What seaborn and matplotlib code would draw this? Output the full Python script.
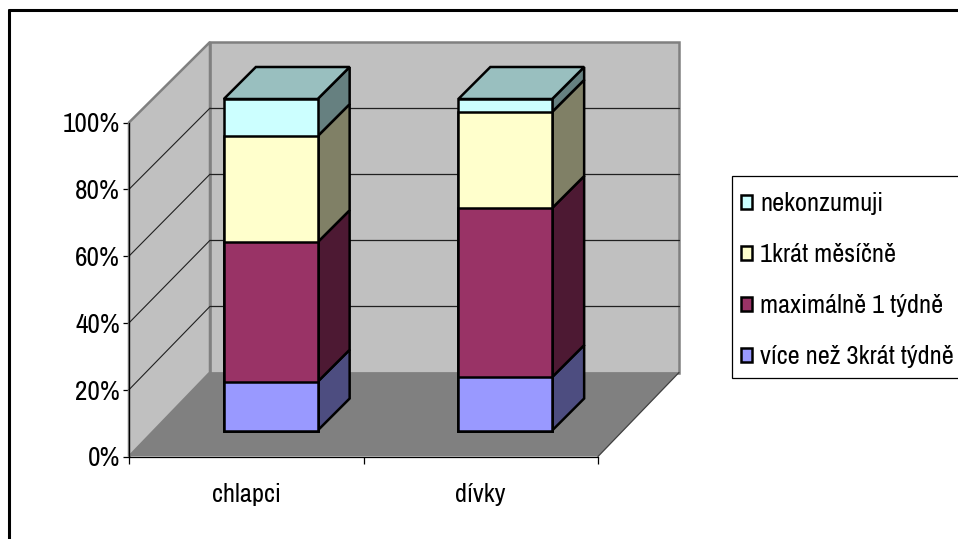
import matplotlib
matplotlib.use("Agg")
import matplotlib.pyplot as plt
from matplotlib import font_manager as fm
from matplotlib.patches import Patch, Polygon, Rectangle
from matplotlib.ticker import PercentFormatter, FixedLocator, NullFormatter
import seaborn as sns

# Share of pupils by frequency of consumption (percent of each group)
groups = ["chlapci", "dívky"]
more_than_3x_week = [14.7, 16.1]
at_most_1x_week = [42.1, 51.0]
once_a_month = [32.0, 29.0]
never = [11.2, 3.9]

series_labels = ["více než 3krát týdně", "maximálně 1 týdně", "1krát měsíčně", "nekonzumuji"]
series_values = [more_than_3x_week, at_most_1x_week, once_a_month, never]
front_colors = ["#9999FF", "#993366", "#FFFFCC", "#CCFFFF"]
side_colors = ["#4D4D80", "#4D1933", "#808066", "#668080"]
top_color = "#99BFBF"
wall_color = "#C0C0C0"
floor_color = "#808080"

sns.set_theme(style="white")
installed = {f.name for f in fm.fontManager.ttflist}
if "Archivo Narrow" in installed:
    family, tick_size, cat_size, legend_size = "Archivo Narrow", 19.6, 19, 19
else:
    family, tick_size, cat_size, legend_size = "Liberation Sans", 16, 15.4, 14.6
plt.rcParams["font.family"] = [family, "DejaVu Sans"]

W, H = 958, 539
fig = plt.figure(figsize=(W / 100, H / 100), dpi=100, facecolor="white")


def rect(left, top, right, bottom):
    """Axes rectangle from pixel edges measured from the top-left corner."""
    return [left / W, (H - bottom) / H, (right - left) / W, (bottom - top) / H]


# Page frame
fig.add_artist(plt.Line2D([9 / W, 9 / W], [0, 1 - 10 / H], color="black", lw=2.2))
fig.add_artist(plt.Line2D([9 / W, 1], [1 - 10 / H, 1 - 10 / H], color="black", lw=2.2))

# Front plane of the chart box: carries the value and category axes
ax = fig.add_axes(rect(129, 122.5, 598, 456.5))
ax.patch.set_alpha(0)
ax.set_xlim(-0.5, 1.5)
ax.set_ylim(0, 100)
X_PX = 469 / 2
Y_PX = 334 / 100
BOX_DX = 81 / X_PX


def to_back(x, v):
    """Project a point of the front plane onto the back wall."""
    return x + BOX_DX, v + (84 - 0.035 * v) / Y_PX


left, right = -0.5, 1.5
floor = [(left, 0), (right, 0), to_back(right, 0), to_back(left, 0)]
side_wall = [(left, 0), to_back(left, 0), to_back(left, 100), (left, 100)]
back_wall = [to_back(left, 0), to_back(right, 0), to_back(right, 100), to_back(left, 100)]
ax.add_patch(Polygon(back_wall, fc=wall_color, ec=floor_color, lw=1.8, clip_on=False, zorder=1))
ax.add_patch(Polygon(side_wall, fc=wall_color, ec=floor_color, lw=1.8, clip_on=False, zorder=1))
ax.add_patch(Polygon(floor, fc=floor_color, ec="none", clip_on=False, zorder=1.5))
ax.plot(*zip((right, 0), to_back(right, 0)), color="#404040", lw=0.9, clip_on=False, zorder=1.6)

for v in [20, 40, 60, 80]:
    bx, by = to_back(left, v)
    ex, ey = to_back(right, v)
    ax.plot([left, bx], [v, by], color="#202020", lw=0.8, clip_on=False, zorder=1.2)
    ax.plot([bx, ex], [by, ey], color="#202020", lw=0.9, clip_on=False, zorder=1.2)

sns.despine(ax=ax)
for s in ["left", "bottom"]:
    ax.spines[s].set_color("black")
    ax.spines[s].set_linewidth(0.9)
    ax.spines[s].set_zorder(3)
ax.set_yticks([0, 20, 40, 60, 80, 100])
ax.yaxis.set_major_formatter(PercentFormatter(100, decimals=0))
ax.tick_params(axis="y", left=True, length=4.5, width=0.9, color="black",
               labelsize=tick_size, labelcolor="black", pad=2)
ax.set_xticks([0, 1])
ax.set_xticklabels(groups)
ax.xaxis.set_minor_locator(FixedLocator([-0.5, 0.5, 1.5]))
ax.xaxis.set_minor_formatter(NullFormatter())
ax.tick_params(axis="x", which="major", bottom=False, labelsize=cat_size, labelcolor="black", pad=13)
ax.tick_params(axis="x", which="minor", bottom=True, length=5, width=0.9, color="black")

# Bars sit a little behind the front plane, in their own overlay axes
bars = fig.add_axes(rect(153.5, 99, 622.5, 430.5))
bars.patch.set_alpha(0)

cumulative = []
running = [0.0] * len(groups)
for values in series_values:
    lower = list(running)
    running = [a + b for a, b in zip(running, values)]
    cumulative.append((lower, list(running)))

# Tallest cumulative bar goes down first so the shorter ones remain visible
BAR_WIDTH = 0.4
for k in range(len(series_values) - 1, -1, -1):
    sns.barplot(x=groups, y=cumulative[k][1], color=front_colors[k], saturation=1,
                width=BAR_WIDTH, edgecolor="black", linewidth=1.8, ax=bars,
                zorder=4 + (len(series_values) - k) * 0.01)
bars.set_xlim(-0.5, 1.5)
bars.set_ylim(0, 100)
bars.axis("off")
for bar in bars.patches:
    bar.set_clip_on(False)

DEPTH_X = 32 / X_PX
DEPTH_Y = 32 / 3.315
for i in range(len(groups)):
    xr = i + BAR_WIDTH / 2
    xl = i - BAR_WIDTH / 2
    for k, (lower, upper) in enumerate(cumulative):
        lo, hi = lower[i], upper[i]
        bars.add_patch(Polygon(
            [(xr, lo), (xr + DEPTH_X, lo + DEPTH_Y), (xr + DEPTH_X, hi + DEPTH_Y), (xr, hi)],
            fc=side_colors[k], ec="black", lw=1.8, clip_on=False, zorder=3, joinstyle="miter"))
    top = cumulative[-1][1][i]
    bars.add_patch(Polygon(
        [(xl, top), (xr, top), (xr + DEPTH_X, top + DEPTH_Y), (xl + DEPTH_X, top + DEPTH_Y)],
        fc=top_color, ec="black", lw=1.8, clip_on=False, zorder=3, joinstyle="miter"))

# Legend box, then the entries from the top of the stack downwards
fig.add_artist(Rectangle((732 / W, 1 - 378 / H), 240 / W, 202 / H, transform=fig.transFigure,
                         fc="white", ec="black", lw=0.9, zorder=5))
handles = [Patch(fc=c, ec="black", lw=1.8) for c in reversed(front_colors)]
legend = fig.legend(handles, list(reversed(series_labels)), loc="upper left",
                    bbox_to_anchor=(740.5 / W, 1 - 192 / H), bbox_transform=fig.transFigure,
                    fontsize=legend_size, frameon=False,
                    labelspacing=1.06, handlelength=0.44, handleheight=0.44, handletextpad=0.3,
                    borderpad=0, borderaxespad=0, labelcolor="black")
legend.set_zorder(6)

fig.savefig("out.png", dpi=100)
